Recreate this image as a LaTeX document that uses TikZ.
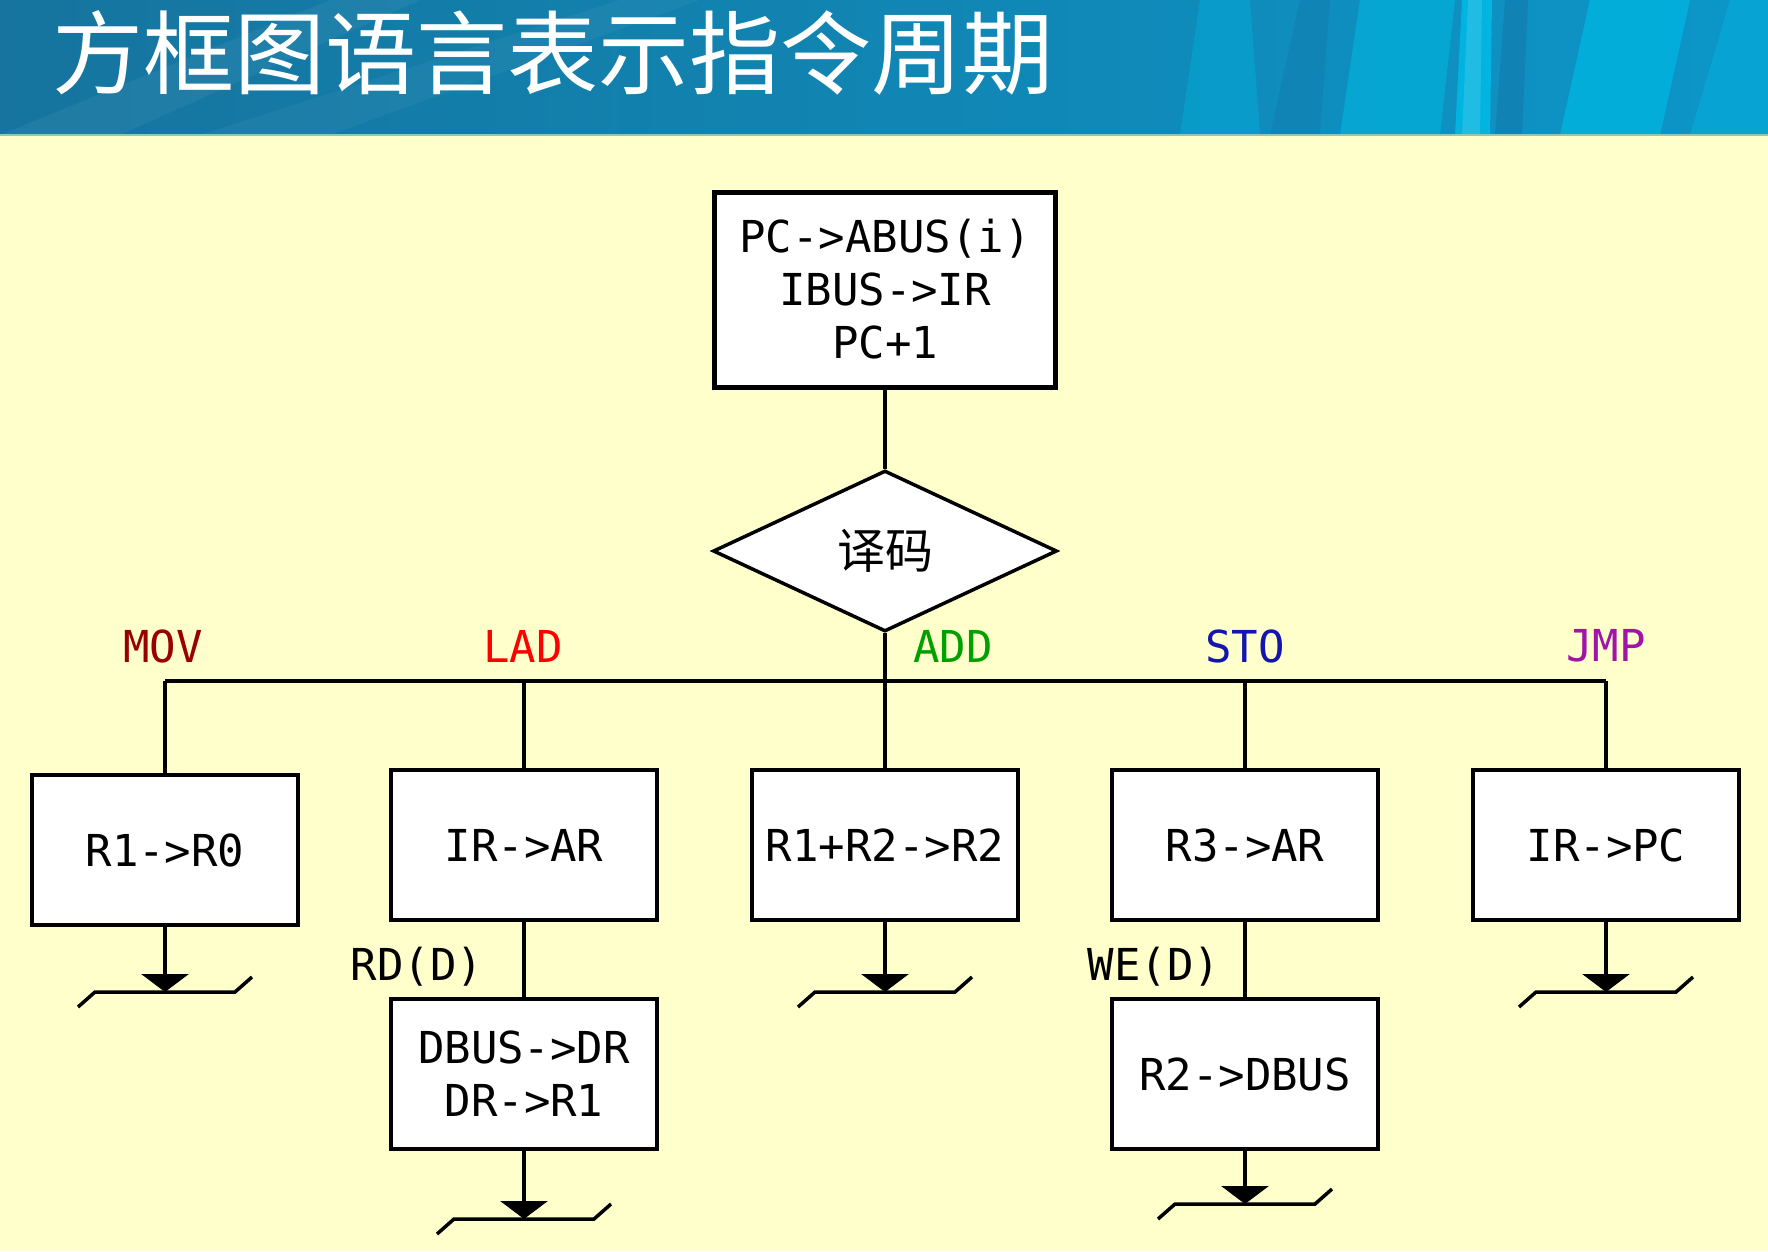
\documentclass[tikz,border=0pt]{standalone}
\usepackage{fontspec}
\usetikzlibrary{shapes.geometric,arrows.meta,calc}
\newfontfamily\cjkfont{Noto Sans CJK SC}
\newfontfamily\monofont{DejaVu Sans Mono}
\newcommand\boxfont{\monofont\fontsize{44pt}{53pt}\selectfont}
\newcommand\labfont{\monofont\fontsize{44pt}{53pt}\selectfont}

\definecolor{paper}{RGB}{255,255,204}
\definecolor{headL}{RGB}{22,116,158}
\definecolor{headR}{RGB}{12,150,200}
\definecolor{streak}{RGB}{0,185,228}
\definecolor{shadowstreak}{RGB}{18,120,170}
\definecolor{movc}{RGB}{153,0,0}
\definecolor{ladc}{RGB}{255,0,0}
\definecolor{addc}{RGB}{0,160,0}
\definecolor{stoc}{RGB}{20,20,175}
\definecolor{jmpc}{RGB}{160,20,170}

\tikzset{
  wire/.style={line width=3.5pt},
  stepbox/.style={draw, line width=3.5pt, fill=white, minimum width=266pt,
    minimum height=150pt, inner sep=0pt, align=center, font=\boxfont},
  fetchbox/.style={stepbox, line width=5pt, minimum width=341pt, minimum height=195pt},
  decide/.style={draw, diamond, line width=3.5pt, fill=white, inner sep=0pt,
    minimum width=344pt, minimum height=161pt, font=\cjkfont\fontsize{48pt}{56pt}\selectfont},
  opcode/.style={font=\labfont, inner sep=0pt},
  sig/.style={font=\labfont, inner sep=0pt},
  flow/.style={wire, -{Triangle[width=47pt,length=18pt]}},
}

\newcommand\terminus[1]{%
  \draw[wire] ($(#1)+(-87,15)$) -- ($(#1)+(-70,0)$) -- ($(#1)+(70,0)$) -- ($(#1)+(87,-15)$);}

\begin{document}
\begin{tikzpicture}[x=1pt,y=-1pt]
  \useasboundingbox (0,0) rectangle (1768,1251);
  % page and title band
  \fill[paper] (0,0) rectangle (1768,1251);
  \shade[left color=headL, right color=headR] (0,0) rectangle (1768,135);
  \begin{scope}
    \clip (0,0) rectangle (1768,135);
    \fill[white, opacity=0.05] (0,135) -- (120,135) -- (420,0) -- (330,0) -- cycle;
    \fill[white, opacity=0.04] (200,135) -- (330,135) -- (700,0) -- (620,0) -- cycle;
    \fill[streak, opacity=0.35] (1180,135) -- (1260,135) -- (1250,0) -- (1200,0) -- cycle;
    \fill[shadowstreak, opacity=0.4] (1270,135) -- (1320,135) -- (1330,0) -- (1300,0) -- cycle;
    \fill[streak, opacity=0.55] (1340,135) -- (1440,135) -- (1455,0) -- (1360,0) -- cycle;
    \fill[streak, opacity=0.9] (1455,135) -- (1490,135) -- (1492,0) -- (1462,0) -- cycle;
    \fill[white, opacity=0.12] (1462,135) -- (1480,135) -- (1482,0) -- (1468,0) -- cycle;
    \fill[shadowstreak, opacity=0.6] (1495,135) -- (1522,135) -- (1528,0) -- (1505,0) -- cycle;
    \fill[streak, opacity=0.7] (1560,135) -- (1660,135) -- (1690,0) -- (1590,0) -- cycle;
    \fill[streak, opacity=0.4] (1690,135) -- (1768,135) -- (1768,0) -- (1730,0) -- cycle;
  \end{scope}
  \draw[line width=2pt, color={rgb,255:red,140;green,200;blue,190}] (0,135) -- (1768,135);
  \node[anchor=west, inner sep=0pt, text=white,
        font=\cjkfont\fontsize{91pt}{100pt}\selectfont] (title) at (52,53)
        {方框图语言表示指令周期};

  % fetch and decode
  \node[fetchbox] (fetch) at (885,289.5) {PC->ABUS(i)\\IBUS->IR\\PC+1};
  \node[decide] (dec) at (885,551) {译码};
  \draw[wire] (fetch.south) -- (dec.north);

  % branch bus
  \coordinate (b1) at (165,681);
  \coordinate (b2) at (524,681);
  \coordinate (b3) at (885,681);
  \coordinate (b4) at (1245,681);
  \coordinate (b5) at (1606,681);
  \draw[wire] (dec.south) -- (b3);
  \draw[wire] (b1) -- (b5);

  \node[opcode, text=movc] (lmov) at (163,646) {MOV};
  \node[opcode, text=ladc] (llad) at (523,646) {LAD};
  \node[opcode, text=addc] (ladd) at (953,646) {ADD};
  \node[opcode, text=stoc] (lsto) at (1245,646) {STO};
  \node[opcode, text=jmpc] (ljmp) at (1606,646) {JMP};

  % first step of each instruction
  \node[stepbox] (mov) at (165,850) {R1->R0};
  \node[stepbox] (lad) at (524,845) {IR->AR};
  \node[stepbox] (add) at (885,845) {R1+R2->R2};
  \node[stepbox] (sto) at (1245,845) {R3->AR};
  \node[stepbox] (jmp) at (1606,845) {IR->PC};
  \foreach \b/\n in {b1/mov, b2/lad, b3/add, b4/sto, b5/jmp}
    \draw[wire] (\b) -- (\n.north);

  % memory steps
  \node[stepbox] (lad2) at (524,1074) {DBUS->DR\\DR->R1};
  \node[stepbox] (sto2) at (1245,1074) {R2->DBUS};
  \draw[wire] (lad.south) -- (lad2.north);
  \draw[wire] (sto.south) -- (sto2.north);
  \node[sig] (rd) at (417,967) {RD(D)};
  \node[sig] (we) at (1154,967) {WE(D)};

  % ends of the cycle
  \coordinate (e1) at (165,992);
  \coordinate (e2) at (524,1219);
  \coordinate (e3) at (885,992);
  \coordinate (e4) at (1245,1204);
  \coordinate (e5) at (1606,992);
  \draw[flow] (mov.south) -- (e1);
  \draw[flow] (lad2.south) -- (e2);
  \draw[flow] (add.south) -- (e3);
  \draw[flow] (sto2.south) -- (e4);
  \draw[flow] (jmp.south) -- (e5);
  \terminus{e1}\terminus{e2}\terminus{e3}\terminus{e4}\terminus{e5}
\end{tikzpicture}
\end{document}
